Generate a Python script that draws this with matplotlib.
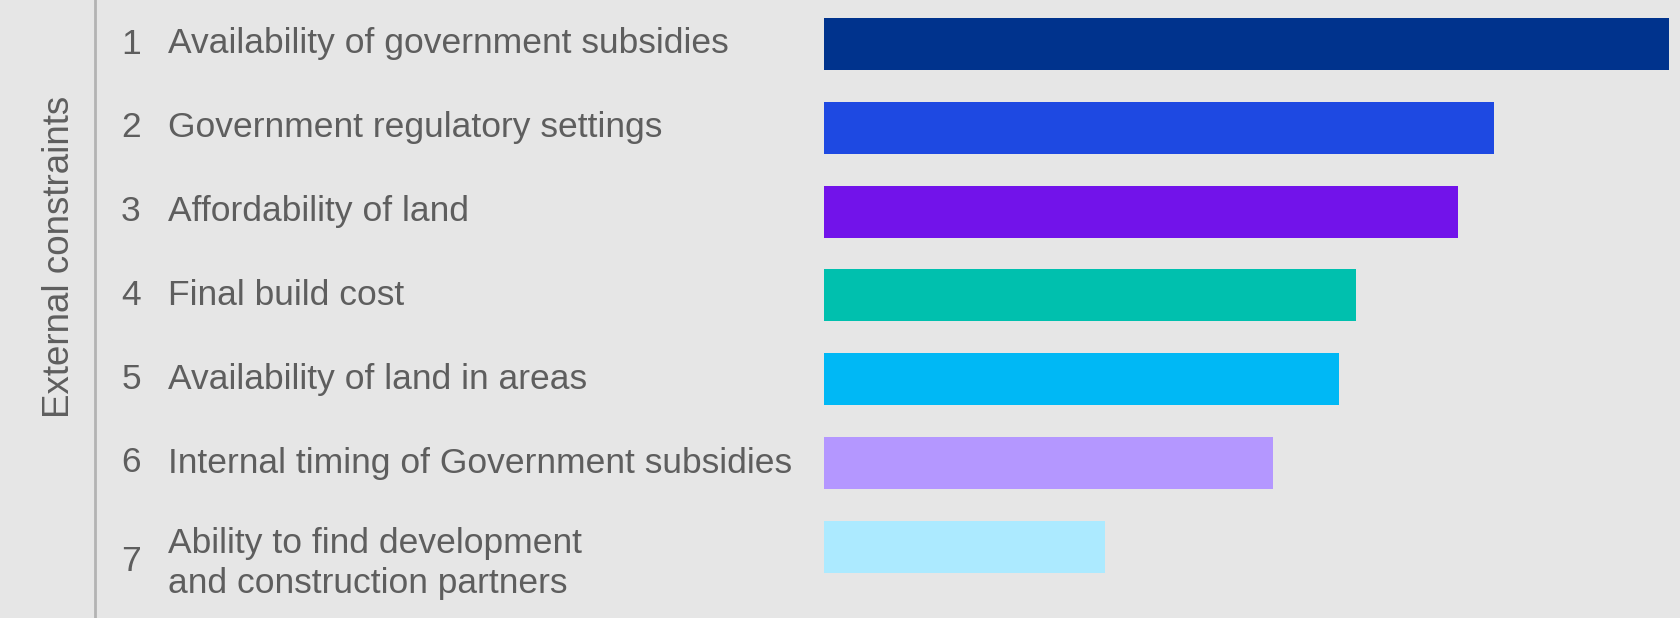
import matplotlib.pyplot as plt
import matplotlib.transforms as mtransforms

# data
ranks = ["1", "2", "3", "4", "5", "6", "7"]
labels = [
    "Availability of government subsidies",
    "Government regulatory settings",
    "Affordability of land",
    "Final build cost",
    "Availability of land in areas",
    "Internal timing of Government subsidies",
    "Ability to find development\nand construction partners",
]
values = [100, 79.3, 75.0, 63.0, 61.0, 53.1, 33.3]
colors = ["#00338D", "#1E49E2", "#7213EA", "#00C0AE", "#00B8F5", "#B497FF", "#ACEAFF"]
side_title = "External constraints"

bg = "#e6e6e6"
txt = "#5e5e5e"
font = ["Liberation Sans Narrow", "Liberation Sans", "DejaVu Sans"]

W, H = 1681, 618
fig = plt.figure(figsize=(W / 100, H / 100), dpi=100, facecolor=bg)
ax = fig.add_axes([824 / W, 0, (1669 - 824) / W, 1])
ax.set_facecolor(bg)

ypos = list(range(len(values)))
ax.barh(ypos, values, height=0.62, color=colors)
ax.set_xlim(0, 100)
# bar centres sit at 44 px + 83.8 px per row from the top
ax.set_ylim((H - 44) / 83.8, -44 / 83.8)
ax.axis("off")

trans = mtransforms.blended_transform_factory(fig.transFigure, ax.transData)
for i, (r, lab) in enumerate(zip(ranks, labels)):
    two = "\n" in lab
    ax.text(131 / W, i + (0.17 if two else 0), r, transform=trans, ha="center", va="center",
            fontsize=25.5, color=txt, family=font, clip_on=False)
    ax.text(168 / W, i + (0.2 if two else 0), lab, transform=trans, ha="left", va="center",
            fontsize=25.5, color=txt, family=font, linespacing=1.27, clip_on=False)

# separator line and rotated title
fig.add_artist(plt.Line2D([95 / W, 95 / W], [0, 1], transform=fig.transFigure,
                          color="#b3b3b3", lw=2))
fig.text(60 / W, 1 - 257 / H, side_title, rotation=90, ha="center", va="center",
         fontsize=26.5, color=txt, family=font)

fig.savefig("out.png", dpi=100, facecolor=bg)
